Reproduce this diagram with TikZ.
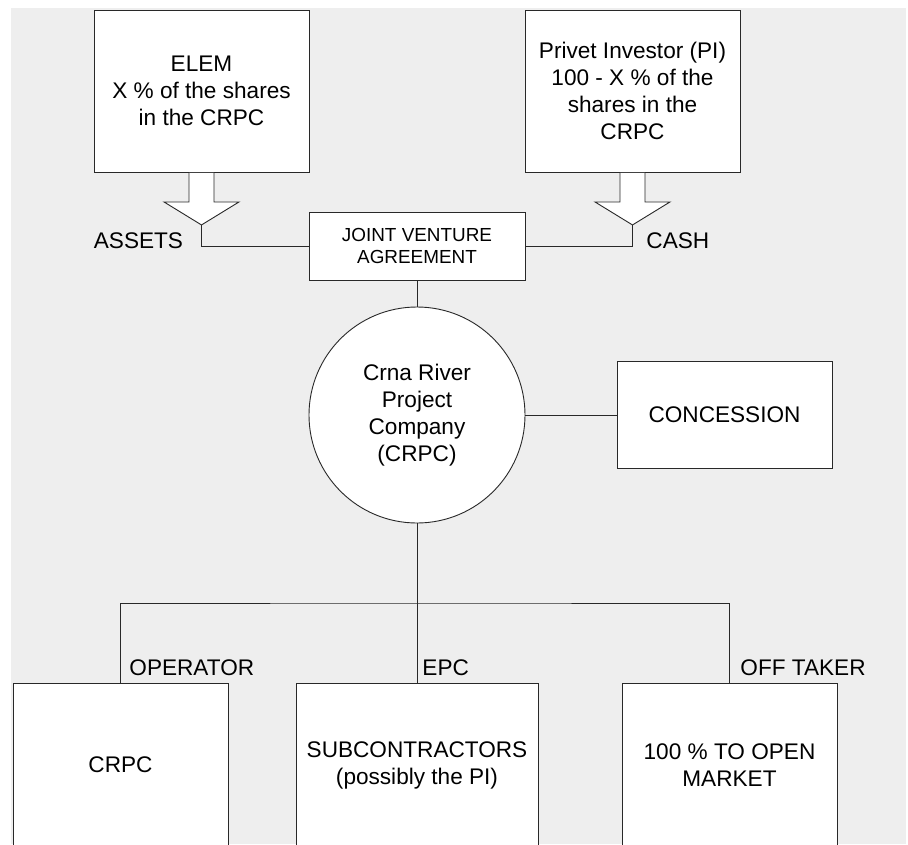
\documentclass[tikz,border=0pt]{standalone}
\usepackage{fontspec}
\setmainfont{Liberation Sans}
\usetikzlibrary{calc}
\definecolor{bggray}{RGB}{238,238,238}
\definecolor{edgegray}{RGB}{40,40,40}
\def\sharearrow(#1)(#2){\draw[line width=0.9pt, color=edgegray, fill=white] ($(#1)+(-12.5,0.5)$) -- ($(#1)+(-12.5,29.5)$) -- ($(#1)+(-37.5,29.5)$) -- ($(#1)+(0,52.5)$) coordinate (#2) -- ($(#1)+(37.5,29.5)$) -- ($(#1)+(12.5,29.5)$) -- ($(#1)+(12.5,0.5)$);}

\begin{document}
\begin{tikzpicture}[x=1pt, y=-1pt,
		every path/.style={line width=0.9pt, color=edgegray},
		box/.style={draw, fill=white, rectangle, inner sep=0pt, align=center, text=black, font=\fontsize{22.6}{27}\selectfont},
		hub/.style={draw, fill=white, circle, inner sep=0pt, minimum size=216pt, align=center, text=black, font=\fontsize{22.6}{27}\selectfont},
		lbl/.style={text=black, inner sep=0pt, font=\fontsize{22.6}{27}\selectfont}]
		%%%%% START %%%%%
		
		\useasboundingbox (0, 0) rectangle (908, 844);
		\fill[bggray] (11, 8) rectangle (906, 844);
		
		\node[box, minimum width=215pt, minimum height=162pt] (elem) at (201.5, 91) {ELEM\\X \% of the shares\\in the CRPC};
		\node[box, minimum width=215pt, minimum height=162pt] (pi) at (632.5, 91) {Privet Investor (PI)\\100 - X \% of the\\shares in the\\CRPC};
		\node[box, minimum width=216pt, minimum height=68pt, font=\fontsize{18.9}{22}\selectfont] (jva) at (417, 246) {JOINT VENTURE\\AGREEMENT};
		
		\sharearrow(elem.south)(elemtip);
		\sharearrow(pi.south)(pitip);
		\draw (elemtip) |- (jva.west);
		\draw (pitip) |- (jva.east);
		\node[lbl, anchor=base east] (assets) at (183.5, 248) {ASSETS};
		\node[lbl, anchor=base west] (cash) at (646, 248) {CASH};
		
		\node[hub] (crpc) at (417, 415) {Crna River\\Project\\Company\\(CRPC)};
		\node[box, minimum width=215pt, minimum height=107pt] (conc) at (724.5, 415) {CONCESSION};
		\draw (jva) -- (crpc);
		\draw (crpc) -- (conc);
		
		\node[box, minimum width=215pt, minimum height=164pt] (operbox) at (120.5, 765) {CRPC};
		\node[box, minimum width=242pt, minimum height=164pt] (epcbox) at (417, 765) {SUBCONTRACTORS\\(possibly the PI)};
		\node[box, minimum width=215pt, minimum height=164pt] (offbox) at (729.5, 765) {100 \% TO OPEN\\MARKET};
		\coordinate (bus) at (417, 603);
		\draw (crpc) -- (epcbox);
		\draw (operbox.north) |- (bus) -| (offbox.north);
		
		\node[lbl, anchor=base west] (operlbl) at (129, 675) {OPERATOR};
		\node[lbl, anchor=base west] (epclbl) at (422, 675) {EPC};
		\node[lbl, anchor=base west] (offlbl) at (740, 675) {OFF TAKER};
		
		%%%%% END %%%%%
\end{tikzpicture}
\end{document}
